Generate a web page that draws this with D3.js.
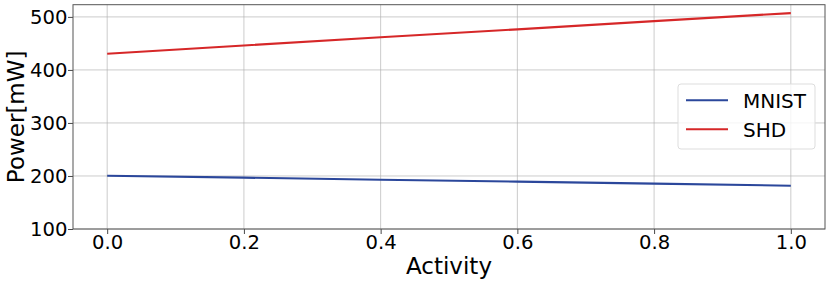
<!DOCTYPE html>
<html><head><meta charset="utf-8">
<script src="https://cdn.jsdelivr.net/npm/d3@7"></script>
<style>body{margin:0;background:#fff}svg{display:block}text{font-family:"DejaVu Sans",sans-serif;fill:#000}</style>
</head><body><svg id="c" width="830" height="284"></svg>
<script>
const activity = [0.0, 0.2, 0.4, 0.6, 0.8, 1.0];
const mnist = [200.5, 196.8, 193.0, 189.3, 185.5, 181.7];
const shd = [430.5, 446.0, 461.5, 476.5, 492.0, 507.2];
const seriesNames = ["MNIST", "SHD"];
const seriesColors = ["#2b479b", "#d62728"];
const xTicks = [0.0, 0.2, 0.4, 0.6, 0.8, 1.0];
const yTicks = [100, 200, 300, 400, 500];

const svg = d3.select("#c");
const L = 73, R = 825, T = 4.7, B = 229;
const x = d3.scaleLinear().domain([-0.05, 1.05]).range([L, R]);
const y = d3.scaleLinear().domain([100, 523]).range([B, T]);

// grid
const g = svg.append("g");
g.selectAll(".gx").data(xTicks).join("line")
  .attr("x1", d => x(d)).attr("x2", d => x(d)).attr("y1", T).attr("y2", B)
  .attr("stroke", "#b0b0b0").attr("stroke-width", 0.8).attr("opacity", 0.8);
g.selectAll(".gy").data(yTicks).join("line")
  .attr("x1", L).attr("x2", R).attr("y1", d => y(d)).attr("y2", d => y(d))
  .attr("stroke", "#b0b0b0").attr("stroke-width", 0.8).attr("opacity", 0.8);

// lines
const line = d3.line().x(d => x(d[0])).y(d => y(d[1]));
[mnist, shd].forEach((s, i) => {
  svg.append("path").datum(activity.map((a, j) => [a, s[j]]))
    .attr("d", line).attr("fill", "none")
    .attr("stroke", seriesColors[i]).attr("stroke-width", 2.1);
});

// axes
const xAxis = d3.axisBottom(x).tickValues(xTicks).tickFormat(d3.format(".1f")).tickSize(5).tickPadding(1.5);
const yAxis = d3.axisLeft(y).tickValues(yTicks).tickFormat(d3.format("d")).tickSize(5).tickPadding(0.5);
const gx = svg.append("g").attr("transform", `translate(0,${B})`).call(xAxis);
const gy = svg.append("g").attr("transform", `translate(${L},0)`).call(yAxis);
[gx, gy].forEach(a => {
  a.select(".domain").remove();
  a.selectAll("line").attr("stroke", "#333").attr("stroke-width", 0.9);
  a.selectAll("text").attr("font-size", "19.6px").attr("font-family", "DejaVu Sans").attr("fill", "#000");
});

// spines
svg.append("rect").attr("x", L).attr("y", T).attr("width", R - L).attr("height", B - T)
  .attr("fill", "none").attr("stroke", "#555").attr("stroke-width", 1);

// axis labels
svg.append("text").attr("x", (L + R) / 2).attr("y", 274).attr("text-anchor", "middle")
  .attr("font-size", "23px").text("Activity");
svg.append("text").attr("transform", `translate(24,${(T + B) / 2}) rotate(-90)`)
  .attr("text-anchor", "middle").attr("font-size", "23px").text("Power[mW]");

// legend
const lg = svg.append("g");
lg.append("rect").attr("x", 678).attr("y", 84).attr("width", 137).attr("height", 65).attr("rx", 3)
  .attr("fill", "#fff").attr("fill-opacity", 0.8).attr("stroke", "#ddd").attr("stroke-width", 1);
seriesNames.forEach((n, i) => {
  const yy = 100.3 + i * 29;
  lg.append("line").attr("x1", 686).attr("x2", 728).attr("y1", yy).attr("y2", yy)
    .attr("stroke", seriesColors[i]).attr("stroke-width", 2.1);
  lg.append("text").attr("x", 743).attr("y", yy + 7.3).attr("font-size", "20px").text(n);
});
</script></body></html>
